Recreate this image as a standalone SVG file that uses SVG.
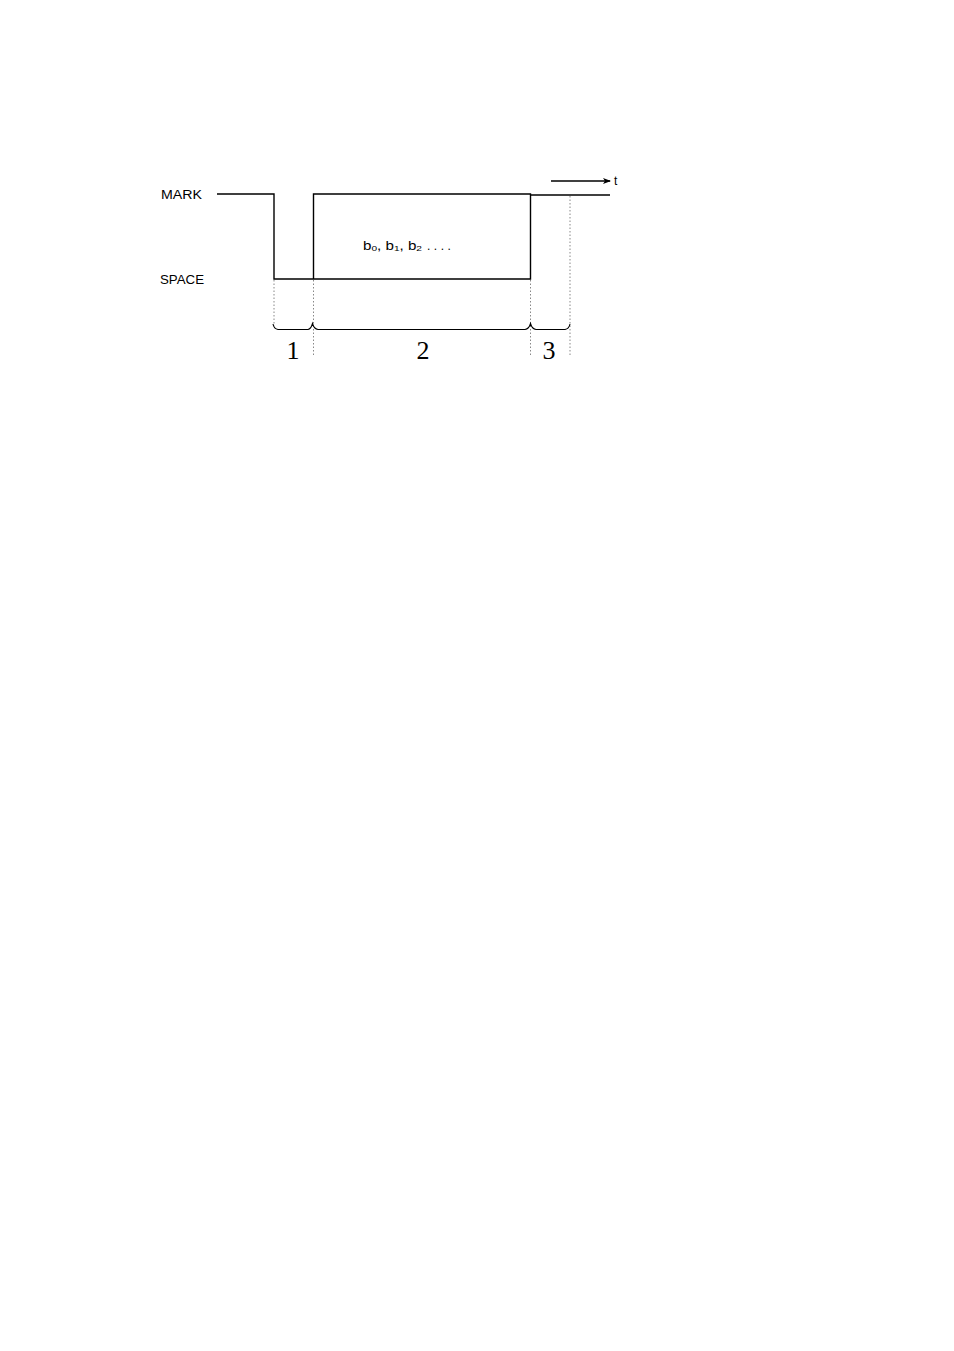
<svg xmlns="http://www.w3.org/2000/svg" width="954" height="1351" viewBox="0 0 954 1351">
<style>
.sig{fill:none;stroke:#000;stroke-width:1.4}
.dot{fill:none;stroke:#888;stroke-width:1;stroke-dasharray:1.5,2}
.br{fill:none;stroke:#000;stroke-width:1.1}
.lbl{font-family:"Liberation Sans",Arial,sans-serif;font-size:12px;fill:#000}
.num{font-family:"Liberation Serif","Times New Roman",serif;font-size:26px;fill:#000}
</style>
<defs>
<marker id="ah" markerWidth="8" markerHeight="6" refX="7" refY="3" orient="auto" markerUnits="userSpaceOnUse">
<path d="M0,0 L8,3 L0,6 L2,3 Z" fill="#000"/>
</marker>
</defs>
<rect width="954" height="1351" fill="#fff"/>
<g id="labels">
<text class="lbl" x="161" y="199" textLength="41" lengthAdjust="spacingAndGlyphs">MARK</text>
<text class="lbl" x="160" y="284" textLength="44" lengthAdjust="spacingAndGlyphs">SPACE</text>
<text class="lbl" x="363" y="250" textLength="59" lengthAdjust="spacingAndGlyphs">b<tspan font-size="8" dy="1">0</tspan><tspan dy="-1">, b</tspan><tspan font-size="8" dy="1">1</tspan><tspan dy="-1">, b</tspan><tspan font-size="8" dy="1">2</tspan></text>
<text class="lbl" x="427" y="250" letter-spacing="3.5">....</text>
<text class="lbl" x="614" y="185">t</text>
</g>
<g id="signal">
<path class="sig" d="M217,194 H274 V279 H313.5 V194 H530.5 V279 H313.5"/>
<path class="sig" d="M530.5,195 H610"/>
</g>
<g id="guides">
<path class="dot" d="M274,280 V326"/>
<path class="dot" d="M313.5,280 V356"/>
<path class="dot" d="M530.5,280 V356"/>
<path class="dot" d="M570,196 V356"/>
</g>
<g id="connectors">
<path class="sig" d="M551,181 H610" marker-end="url(#ah)" stroke-width="1.1"/>
<path class="br" d="M273,324 Q274,329 278,329.5 H308 Q311,329 312.5,323.5 Q314,329 318,329.5 H525 Q529,329 530.5,323.5 Q532,329 536,329.5 H565 Q569,329 570,324"/>
</g>
<g id="numbers">
<text class="num" x="293" y="359" text-anchor="middle">1</text>
<text class="num" x="423" y="359" text-anchor="middle">2</text>
<text class="num" x="549" y="359" text-anchor="middle">3</text>
</g>
</svg>
